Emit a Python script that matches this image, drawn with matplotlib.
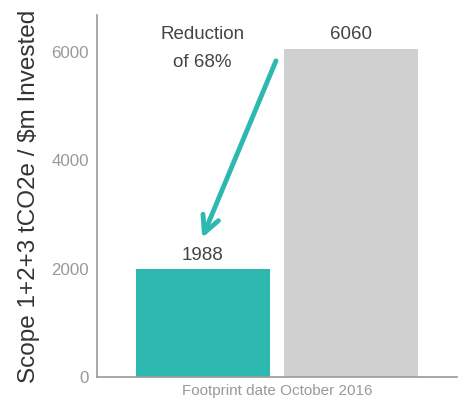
import matplotlib
matplotlib.use('Agg')
import matplotlib.pyplot as plt

plt.rcParams['font.family'] = ['Liberation Sans', 'DejaVu Sans']

# data
categories = ['Portfolio', 'Benchmark']
values = [1988, 6060]
bar_colors = ['#2db8b0', '#d0d0d0']
yticks = [0, 2000, 4000, 6000]
note = 'Reduction\nof 68%'

fig = plt.figure(figsize=(4.65, 4.05), dpi=100)
ax = fig.add_axes([0.2086, 0.0691, 0.7742, 0.8939])

x = list(range(len(values)))
ax.bar(x, values, width=0.9, color=bar_colors)
for xi, v in zip(x, values):
    ax.annotate(str(v), xy=(xi, v), xytext=(0, 4), textcoords='offset points',
                ha='center', va='bottom', fontsize=13.5, color='#444444')

ax.set_xlim(-0.71, 1.71)
ax.set_ylim(0, 6680)
ax.set_yticks(yticks)
ax.set_xticks([])
ax.tick_params(axis='y', length=0, labelsize=12.2, labelcolor='#999999', pad=6)

for s in ['top', 'right']:
    ax.spines[s].set_visible(False)
for s in ['left', 'bottom']:
    ax.spines[s].set_color('#999999')
    ax.spines[s].set_linewidth(1.2)

ax.set_ylabel('Scope 1+2+3 tCO2e / $m Invested', fontsize=17.5, color='#333333', labelpad=8)
ax.set_xlabel('Footprint date October 2016', fontsize=11, color='#999999', labelpad=5)

# arrow showing the reduction
ax.annotate('', xy=(-0.01, 2520), xytext=(0.5, 5880),
            arrowprops=dict(arrowstyle='->,head_length=1.2,head_width=0.6',
                            color='#2db8b0', lw=3.5))
ax.text(0.0, 6060, note, ha='center', va='center', fontsize=13.5,
        color='#444444', linespacing=1.9)

fig.savefig('out.png', dpi=100)
